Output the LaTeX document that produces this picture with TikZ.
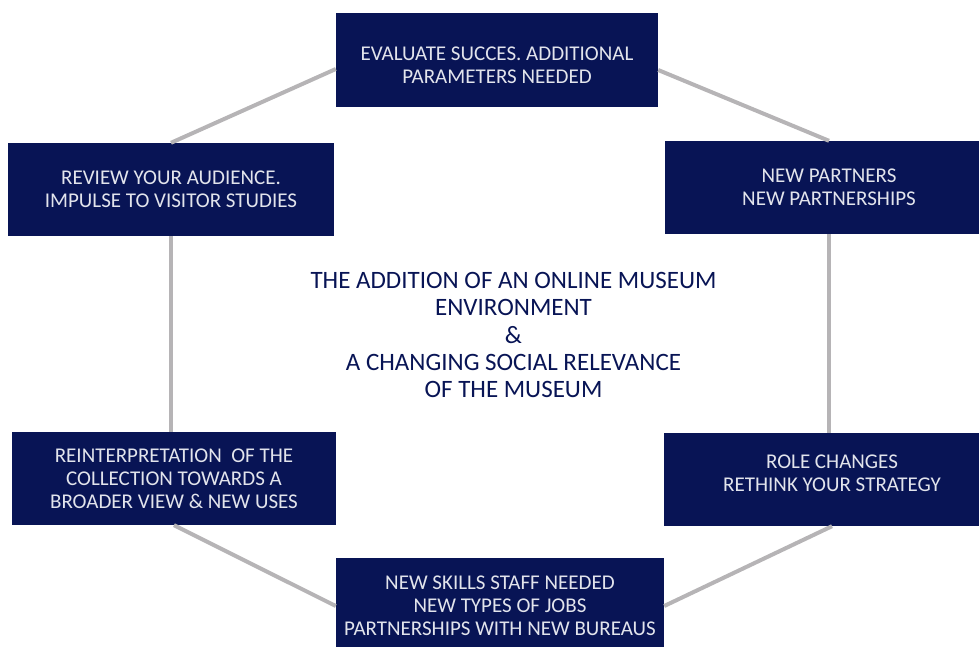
\documentclass[tikz,border=0pt]{standalone}
\usepackage{fontspec}
\setmainfont{Carlito}
\usepackage{xcolor}
\usetikzlibrary{calc}
\definecolor{navy}{RGB}{8,20,85}
\definecolor{boxtext}{RGB}{226,228,236}
\definecolor{linkgray}{RGB}{182,180,182}
\tikzset{
    x=1pt, y=-1pt, % one unit is one pixel of the reference
    stepbox/.style={fill=navy, text=boxtext, align=center, inner sep=0pt,
        font=\fontsize{21}{23}\selectfont}, % the dark boxes round the cycle
    steptext/.style={text=boxtext, align=center, inner sep=0pt,
        font=\fontsize{21}{23}\selectfont}, % text set off centre in a box
    link/.style={draw=linkgray, line width=4pt}, % the grey connectors
}
\begin{document}
\begin{tikzpicture}
    \useasboundingbox (0,0) rectangle (979,646);
    \clip (0,0) rectangle (979,646);
    % boxes of the cycle
    \node[stepbox, minimum width=322pt, minimum height=94pt] (evaluate) at (497,60) {};
    \node[steptext] (evaluatetext) at ([yshift=-5pt]evaluate.center)
        {EVALUATE SUCCES. ADDITIONAL\\PARAMETERS NEEDED};
    \node[stepbox, minimum width=328pt, minimum height=93pt] (partners) at (829,187.5)
        {NEW PARTNERS\\NEW PARTNERSHIPS};
    \node[stepbox, minimum width=336pt, minimum height=93pt] (role) at (832,479.5) {};
    \node[steptext] (roletext) at ([yshift=6pt]role.center)
        {ROLE CHANGES\\RETHINK YOUR STRATEGY};
    \node[stepbox, minimum width=328pt, minimum height=96pt] (skills) at (500,606)
        {NEW SKILLS STAFF NEEDED\\NEW TYPES OF JOBS\\PARTNERSHIPS WITH NEW BUREAUS};
    \node[stepbox, minimum width=324pt, minimum height=93pt] (reinterp) at (174,478.5)
        {REINTERPRETATION\ \ OF THE\\COLLECTION TOWARDS A\\BROADER VIEW \& NEW USES};
    \node[stepbox, minimum width=326pt, minimum height=93pt] (review) at (171,189.5)
        {REVIEW YOUR AUDIENCE.\\IMPULSE TO VISITOR STUDIES};
    % centre text
    \node[text=navy, align=center, font=\fontsize{25}{27.3}\selectfont] (centre) at (513.5,335)
        {THE ADDITION OF AN ONLINE MUSEUM\\ENVIRONMENT\\\&\\A CHANGING SOCIAL RELEVANCE\\OF THE MUSEUM};
    % connectors
    \draw[link] ([yshift=-9pt]evaluate.west) -- (review.north);
    \draw[link] ([yshift=-10pt]evaluate.east) -- (partners.north);
    \draw[link] (review.south) -- (review.south |- reinterp.north);
    \draw[link] (partners.south) -- (partners.south |- role.north);
    \draw[link] (reinterp.south) -- (skills.west);
    \draw[link] (role.south) -- (skills.east);
\end{tikzpicture}
\end{document}
